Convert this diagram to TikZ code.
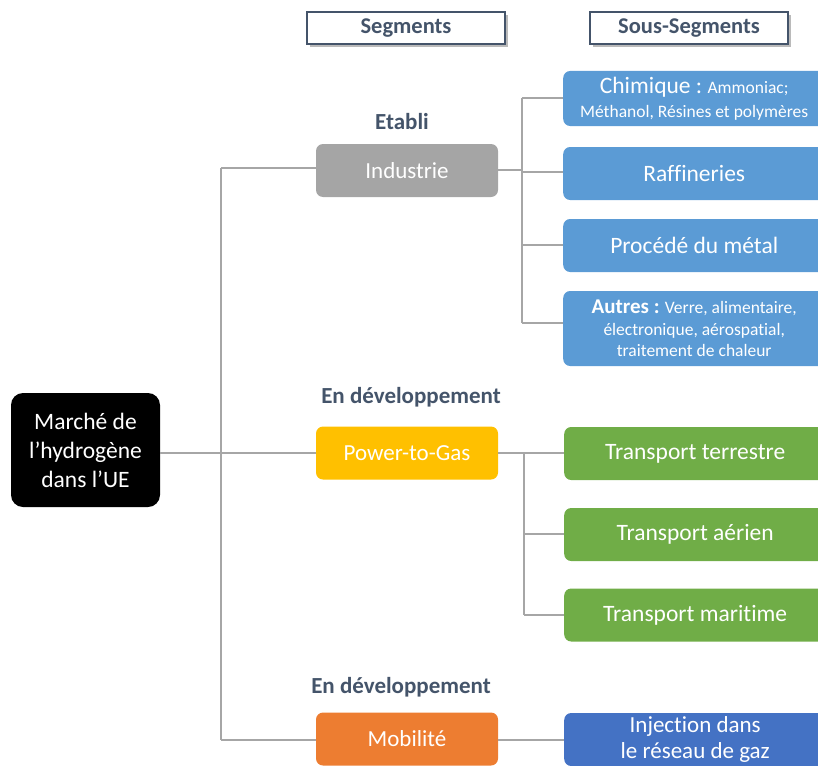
\documentclass[tikz,border=0pt]{standalone}
\usepackage{fontspec}
\setmainfont{Carlito}[Ligatures=NoCommon]
\usetikzlibrary{shadows}
\definecolor{hdr}{HTML}{44546A}
\definecolor{lin}{HTML}{A6A6A6}
\definecolor{cgray}{HTML}{A5A5A5}
\definecolor{cyel}{HTML}{FFC000}
\definecolor{corg}{HTML}{ED7D31}
\definecolor{cblu}{HTML}{5B9BD5}
\definecolor{cgrn}{HTML}{70AD47}
\definecolor{cdbl}{HTML}{4472C4}
\tikzset{
  x=1pt,y=-1pt,
  hdrbox/.style={draw=hdr,line width=1.5pt,fill=white,minimum width=198pt,minimum height=32pt,
     font=\fontsize{22.5}{24}\selectfont\bfseries,text=hdr,inner sep=0pt,
     drop shadow={shadow xshift=3pt,shadow yshift=-3pt,fill=black!45,opacity=0.6}},
  segbox/.style={rounded corners=7pt,minimum width=182pt,minimum height=53pt,text=white,
     font=\fontsize{23}{26}\selectfont,inner sep=0pt},
  subbox/.style={rounded corners=7pt,minimum width=262pt,text=white,anchor=west,
     font=\fontsize{23.5}{27}\selectfont,inner sep=0pt,align=center},
  lbl/.style={font=\fontsize{23}{26}\selectfont\bfseries,text=hdr},
  conn/.style={draw=lin,line width=2.5pt}
}
\begin{document}
\begin{tikzpicture}
\useasboundingbox (0,0) rectangle (818,765);
\clip (0,0) rectangle (818,765);
% headers
\node[hdrbox] (h1) at (406,28) {Segments};
\node[hdrbox] (h2) at (689,28) {Sous-Segments};
% root
\node[fill=black,rounded corners=12pt,minimum width=149pt,minimum height=114pt,text=white,
  align=center,inner sep=0pt,font=\fontsize{23.5}{29}\selectfont] (root) at (85.5,450) {Marché de\\l’hydrogène\\dans l’UE};
% segments
\node[segbox,fill=cgray] (ind) at (407,170.5) {Industrie};
\node[segbox,fill=cyel] (p2g) at (407,453) {Power-to-Gas};
\node[segbox,fill=corg] (mob) at (407,739) {Mobilité};
\node[lbl] (l1) at (402,122) {Etabli};
\node[lbl] (l2) at (411,397) {En développement};
\node[lbl] (l3) at (401,687) {En développement};
% sub-segments
\node[subbox,fill=cblu,minimum height=55pt] (s1) at (563,98.5) {Chimique :~{\fontsize{17.5}{20}\selectfont Ammoniac;}\\[-3pt]{\fontsize{17.5}{20}\selectfont Méthanol, Résines et polymères}};
\node[subbox,fill=cblu,minimum height=53pt] (s2) at (563,173.5) {Raffineries};
\node[subbox,fill=cblu,minimum height=53pt] (s3) at (563,245.5) {Procédé du métal};
\node[subbox,fill=cblu,minimum height=75pt,font=\fontsize{17.5}{21.5}\selectfont] (s4) at (563,328.5) {{\fontsize{21}{22}\selectfont\bfseries Autres :} Verre, alimentaire,\\électronique, aérospatial,\\traitement de chaleur};
\node[subbox,fill=cgrn,minimum height=53pt] (t1) at (564,453.5) {Transport terrestre};
\node[subbox,fill=cgrn,minimum height=53pt] (t2) at (564,534.5) {Transport aérien};
\node[subbox,fill=cgrn,minimum height=53pt] (t3) at (564,615) {Transport maritime};
\node[subbox,fill=cdbl,minimum height=53pt,font=\fontsize{23}{26}\selectfont] (m1) at (564,739.5) {Injection dans\\le réseau de gaz};
% connectors
\coordinate (v1) at (221,168);
\coordinate (v2) at (221,740);
\coordinate (v3) at (221,453);
\draw[conn] (root.east |- v3) -- (p2g.west |- v3);
\draw[conn] (v1) -- (v2);
\draw[conn] (v1) -- (ind.west |- v1);
\draw[conn] (v2) -- (mob.west |- v2);
% industrie branch
\coordinate (a0) at (522,170);
\draw[conn] (ind.east |- a0) -- (a0);
\draw[conn] (522,98) -- (522,323);
\draw[conn] (522,98) -- (s1.west |- 0,98);
\draw[conn] (522,172) -- (s2.west |- 0,172);
\draw[conn] (522,245) -- (s3.west |- 0,245);
\draw[conn] (522,323) -- (s4.west |- 0,323);
% p2g branch
\draw[conn] (p2g.east |- 0,453) -- (t1.west |- 0,453);
\draw[conn] (524,453) -- (524,615);
\draw[conn] (524,534) -- (t2.west |- 0,534);
\draw[conn] (524,615) -- (t3.west |- 0,615);
% mobilite
\draw[conn] (mob.east |- 0,740) -- (m1.west |- 0,740);
\end{tikzpicture}
\end{document}
